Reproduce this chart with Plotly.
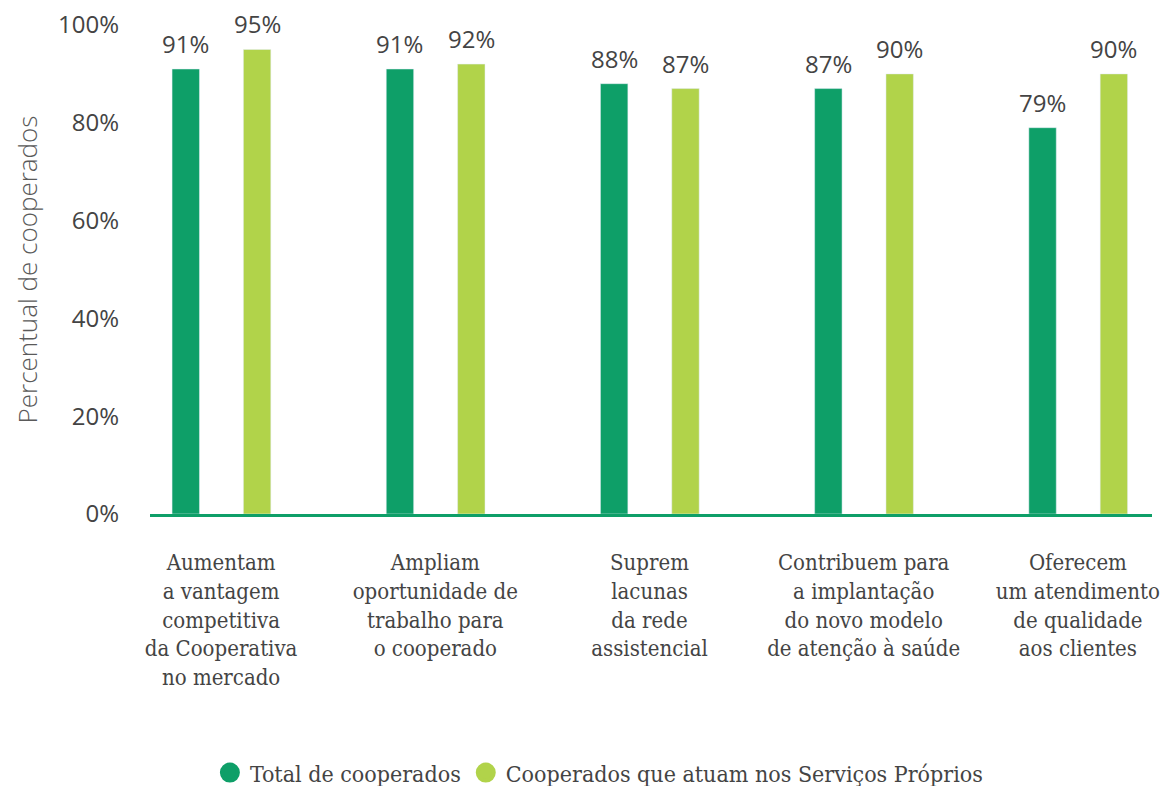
import plotly.graph_objects as go

categories = [
    "Aumentam<br>a vantagem<br>competitiva<br>da Cooperativa<br>no mercado",
    "Ampliam<br>oportunidade de<br>trabalho para<br>o cooperado",
    "Suprem<br>lacunas<br>da rede<br>assistencial",
    "Contribuem para<br>a implantação<br>do novo modelo<br>de atenção à saúde",
    "Oferecem<br>um atendimento<br>de qualidade<br>aos clientes",
]
total = [91, 91, 88, 87, 79]
proprios = [95, 92, 87, 90, 90]
series_names = ["Total de cooperados", "Cooperados que atuam nos Serviços Próprios"]
y_ticks = [0, 20, 40, 60, 80, 100]
y_ticktext = ["0%", "20%", "40%", "60%", "80%", "100%"]
y_title = "Percentual de cooperados"

DARK = "#0e9f68"
LIGHT = "#b1d34a"
TEXT = "#444444"
SANS = "Open Sans, Noto Sans, sans-serif"
SLAB = "DejaVu Serif Condensed, DejaVu Serif, serif"

xpos = list(range(len(categories)))
bw = 0.128

fig = go.Figure()
fig.add_trace(go.Bar(x=xpos, y=total, width=bw, offset=-0.229, marker_color=DARK,
                     showlegend=False, name=series_names[0]))
fig.add_trace(go.Bar(x=xpos, y=proprios, width=bw, offset=0.104, marker_color=LIGHT,
                     showlegend=False, name=series_names[1]))
for nm, col in zip(series_names, [DARK, LIGHT]):
    fig.add_trace(go.Scatter(x=[None], y=[None], mode="markers", name=nm,
                             marker=dict(symbol="circle", size=18, color=col,
                                         line=dict(width=4, color=col))))

annotations = []
for xs, vals in [(-0.165, total), (0.168, proprios)]:
    for i, v in enumerate(vals):
        annotations.append(dict(x=i + xs, y=v, xref="x", yref="y", text=f"{v}%",
                                showarrow=False, yanchor="bottom", yshift=7,
                                font=dict(family=SANS, size=24, color=TEXT)))
annotations.append(dict(x=-0.1228, y=0.5, xref="paper", yref="paper", text=y_title,
                        textangle=-90, showarrow=False, xanchor="center", yanchor="middle",
                        font=dict(family=SANS, size=26, color="#5a5a5a", weight=300)))

fig.update_layout(
    width=1152, height=778,
    margin=dict(l=142, r=8, t=17, b=272, autoexpand=False),
    paper_bgcolor="white", plot_bgcolor="white",
    barmode="overlay",
    annotations=annotations,
    xaxis=dict(tickmode="array", tickvals=xpos, ticktext=categories,
               range=[-0.332, 4.346], showgrid=False, zeroline=False,
               showline=True, linecolor=DARK, linewidth=3,
               ticks="", ticklabelstandoff=27, automargin=False,
               ticklabeloverflow="allow",
               tickfont=dict(family=SLAB, size=22, color=TEXT)),
    yaxis=dict(range=[0, 100], tickvals=y_ticks, ticktext=y_ticktext,
               showgrid=False, zeroline=False, showline=False, ticks="",
               ticklabelstandoff=30, automargin=False, ticklabeloverflow="allow",
               tickfont=dict(family=SANS, size=24, color=TEXT)),
    legend=dict(orientation="h", xref="paper", x=0.448, xanchor="center",
                yref="paper", y=-0.485, yanchor="top",
                font=dict(family=SLAB, size=23, color=TEXT), itemwidth=30,
                traceorder="normal"),
)

fig.write_html("out.html")
